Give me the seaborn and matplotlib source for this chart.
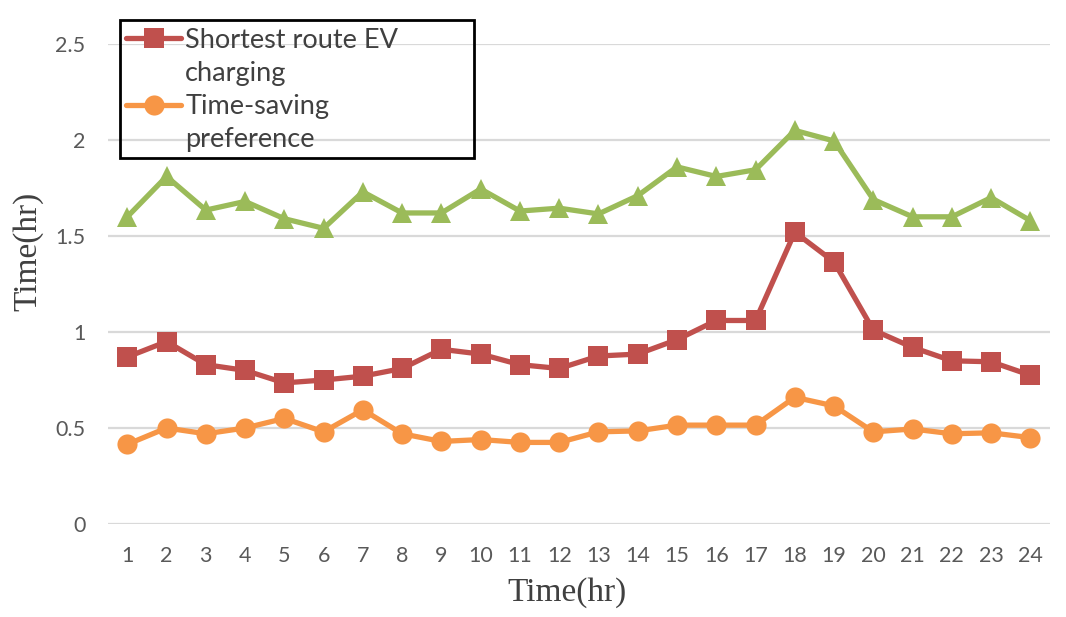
import pandas as pd
import matplotlib
matplotlib.use("Agg")
import matplotlib.pyplot as plt
from matplotlib.lines import Line2D
from matplotlib.patches import Rectangle
from matplotlib.ticker import FuncFormatter
import seaborn as sns

# Dados
horas = list(range(1, 25))
shortest_route = [0.87, 0.95, 0.83, 0.80, 0.735, 0.75, 0.77, 0.81, 0.91, 0.885, 0.83, 0.81,
                  0.875, 0.885, 0.96, 1.06, 1.06, 1.52, 1.365, 1.01, 0.92, 0.85, 0.845, 0.775]
time_saving = [0.415, 0.50, 0.47, 0.50, 0.55, 0.48, 0.595, 0.47, 0.43, 0.44, 0.425, 0.425,
               0.48, 0.485, 0.515, 0.515, 0.515, 0.66, 0.615, 0.48, 0.495, 0.47, 0.475, 0.45]
terceira = [1.60, 1.81, 1.635, 1.68, 1.59, 1.54, 1.73, 1.62, 1.62, 1.745, 1.63, 1.645,
            1.615, 1.71, 1.86, 1.81, 1.845, 2.05, 1.995, 1.69, 1.60, 1.60, 1.70, 1.58]

# legenda quebrada em duas linhas como no original
linhas_legenda = ["Shortest route EV", "charging", "Time-saving", "preference"]
cores = {"vermelho": "#C0504D", "laranja": "#F79646", "verde": "#9BBB59"}

df = pd.DataFrame({"Hora": horas, "SR": shortest_route, "TS": time_saving, "G": terceira})

sns.set_style("white")
plt.rcParams["font.family"] = ["Lato", "DejaVu Sans"]

fig = plt.figure(figsize=(10.66, 6.17), dpi=100)
ax = fig.add_axes([0.101, 0.1507, 0.884, 0.778])

estilo = dict(linewidth=3.8, markersize=14.5, markeredgewidth=0)
sns.lineplot(data=df, x="Hora", y="G", ax=ax, color=cores["verde"], marker="^", **estilo)
sns.lineplot(data=df, x="Hora", y="SR", ax=ax, color=cores["vermelho"], marker="s", **estilo)
sns.lineplot(data=df, x="Hora", y="TS", ax=ax, color=cores["laranja"], marker="o", **estilo)

ax.set_xlim(0.5, 24.5)
ax.set_ylim(0, 2.5)
ax.set_xticks(horas)
ax.set_yticks([0, 0.5, 1, 1.5, 2, 2.5])
ax.yaxis.set_major_formatter(FuncFormatter(lambda v, p: f"{v:g}"))
ax.grid(axis="y", color="#D9D9D9", linewidth=1.6)
ax.set_axisbelow(True)
for s in ax.spines.values():
    s.set_visible(False)
ax.tick_params(axis="both", length=0, labelsize=15.5, labelcolor="#595959")
ax.tick_params(axis="x", pad=16)
ax.tick_params(axis="y", pad=16)

ax.set_xlabel("Time(hr)", family="Liberation Serif", fontsize=24, color="#404040")
ax.set_ylabel("Time(hr)", family="Liberation Serif", fontsize=24, color="#404040")
ax.xaxis.set_label_coords(0.487, -0.11)
ax.yaxis.set_label_coords(-0.068, 0.567)

vazio = Line2D([], [], linestyle="none")
handles = [
    Line2D([], [], color=cores["vermelho"], marker="s", linewidth=3.8, markersize=14.5, markeredgewidth=0),
    vazio,
    Line2D([], [], color=cores["laranja"], marker="o", linewidth=3.8, markersize=14.5, markeredgewidth=0),
    vazio,
]
leg = fig.legend(handles, linhas_legenda, loc="upper left", bbox_to_anchor=(0.118, 0.955),
                 fontsize=19.5, frameon=False, handlelength=2.05, handletextpad=0.15,
                 labelspacing=0.3, borderpad=0, borderaxespad=0)
for t in leg.get_texts():
    t.set_color("#404040")

# moldura da legenda (caixa fixa como no Excel)
fig.patches.append(Rectangle((0.1126, 0.744), 0.332, 0.2237, transform=fig.transFigure,
                             fill=False, edgecolor="black", linewidth=2, zorder=5))

fig.savefig("out.png", dpi=100)
